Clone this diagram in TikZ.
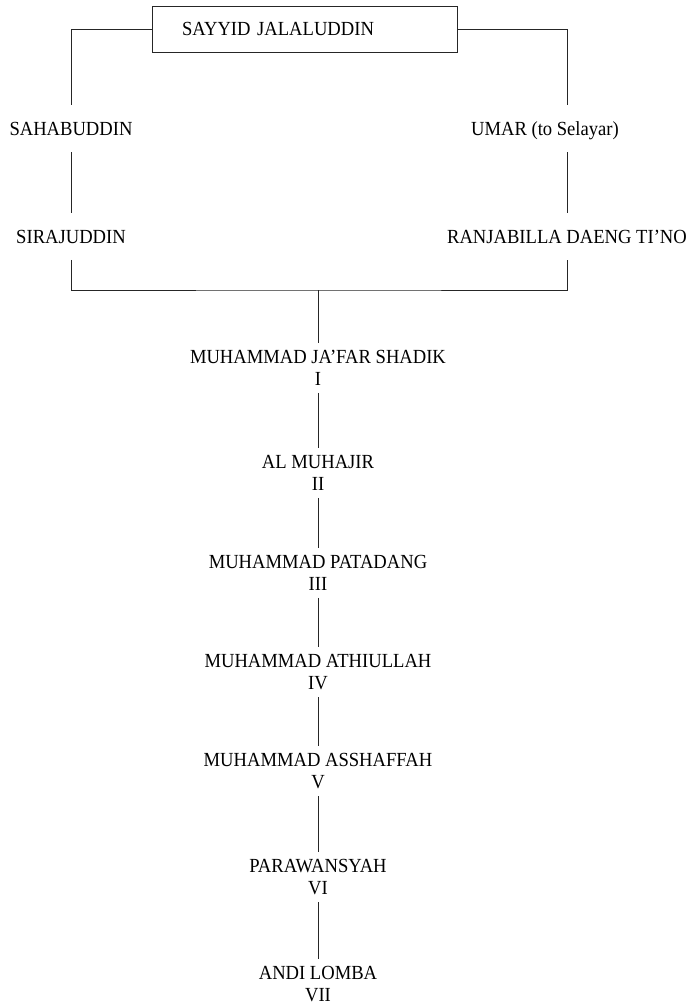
\documentclass[tikz,border=0pt]{standalone}
\usepackage{fontspec}
\setmainfont[FakeStretch=0.93]{Liberation Serif}
\usetikzlibrary{calc}

\tikzset{
	kin/.style={font=\fontsize{15pt}{17pt}\selectfont, align=center, inner sep=5pt},
	branch/.style={font=\fontsize{15pt}{17pt}\selectfont, text height=10pt, text depth=0pt, inner xsep=2pt, inner ysep=12.5pt, anchor=base},
	link/.style={line width=0.7pt, color=black!85}
}

\begin{document}
\begin{tikzpicture}[x=0.75pt, y=-0.75pt]
		%%%%% START %%%%%
		\useasboundingbox (0, 0) rectangle (691, 1008);
		
		\node[draw, link, font=\fontsize{15pt}{17pt}\selectfont, minimum height=34.5pt, text width=183.75pt, inner xsep=22.5pt, align=left, text=black] (root) at (304.5, 29) {SAYYID JALALUDDIN};
		
		\node[branch] (sahab) at (71, 135.5) {SAHABUDDIN};
		\node[branch] (umar) at (545, 135.5) {UMAR (to Selayar)};
		\node[branch] (siraj) at (71, 243) {SIRAJUDDIN};
		\node[branch] (ranja) at (567, 243) {RANJABILLA DAENG TI’NO};
		
		\coordinate (join) at (318, 290);
		
		\node[kin] (jafar) at (318, 368) {MUHAMMAD JA’FAR SHADIK\\I};
		\node[kin] (muhajir) at (318, 473) {AL MUHAJIR\\II};
		\node[kin] (patadang) at (318, 573) {MUHAMMAD PATADANG\\III};
		\node[kin] (athiullah) at (318, 672) {MUHAMMAD ATHIULLAH\\IV};
		\node[kin] (asshaffah) at (318, 771) {MUHAMMAD ASSHAFFAH\\V};
		\node[kin] (parawansyah) at (318, 877) {PARAWANSYAH\\VI};
		\node[kin] (lomba) at (318, 984) {ANDI LOMBA\\VII};
		
		% two lines from the top
		\draw[link] (root.west) -| (sahab.north);
		\draw[link] (sahab.south) -- (siraj.north);
		\draw[link] (root.east) -| (ranja |- umar.north);
		\draw[link] (ranja |- umar.south) -- (ranja.north);
		
		% joined again
		\draw[link] (siraj.south) |- (join) -| (ranja.south);
		\draw[link] (join) -- (jafar.north);
		
		\foreach \a/\b in {jafar/muhajir, muhajir/patadang, patadang/athiullah, athiullah/asshaffah, asshaffah/parawansyah, parawansyah/lomba}
			\draw[link] (\a.south) -- (\b.north);
		
		%%%%% END %%%%%
	\end{tikzpicture}
\end{document}
